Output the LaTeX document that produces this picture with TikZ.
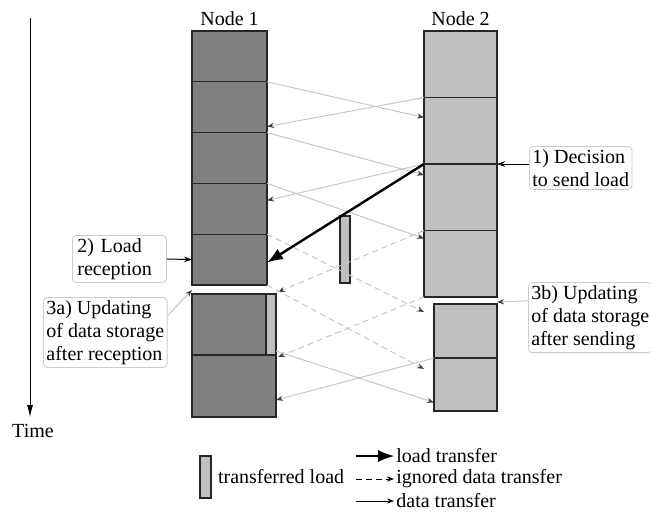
\documentclass[tikz,border=0pt]{standalone}
\usepackage{fontspec}
\setmainfont{Liberation Serif}
\usetikzlibrary{arrows.meta,positioning}

\tikzset{
  n1box/.style={draw=black!85,line width=0.6pt,fill=black!50,inner sep=0pt,outer sep=0pt,minimum width=37.5pt,minimum height=25.4pt},
  n2box/.style={draw=black!85,line width=0.6pt,fill=black!25,inner sep=0pt,outer sep=0pt,minimum width=36.5pt,minimum height=33.25pt},
  loadbox/.style={draw=black!85,line width=0.6pt,fill=black!25,inner sep=0pt,outer sep=0pt,minimum width=5pt},
  datatr/.style={draw=black!22,line width=0.5pt,-{Stealth[length=3.5pt,width=2.6pt,color=black!75]}},
  ignored/.style={datatr,dash pattern=on 3pt off 2pt},
  loadtr/.style={draw=black,line width=1.2pt,-{Latex[length=8pt,width=6pt]}},
  callout/.style={draw=black!20,rounded corners=2pt,align=left,inner sep=1.5pt},
  callarr/.style={draw=black,line width=0.5pt,-{Stealth[length=4pt,width=2.8pt]}},
  legtxt/.style={inner sep=1pt,anchor=west}
}

\begin{document}
\begin{tikzpicture}[x=0.5pt,y=-0.5pt,font=\fontsize{10pt}{11.5pt}\selectfont]
\useasboundingbox (0,0) rectangle (651,511);

% time axis
\coordinate (tstart) at (30,18);
\node (time) at (33,431) {Time};
\draw[line width=0.5pt,-{Latex[length=6pt,width=3pt]}] (tstart) -- (time.north -| tstart);

% node 1
\node[n1box] (n1a) at (229.5,56.4) {};
\node[n1box] (n1b) at (229.5,107.2) {};
\node[n1box] (n1c) at (229.5,158) {};
\node[n1box] (n1d) at (229.5,208.8) {};
\node[n1box] (n1e) at (229.5,259.6) {};
\node[n1box,minimum width=42pt,minimum height=30.5pt] (n1f) at (234,324.5) {};
\node[n1box,minimum width=42pt,minimum height=31pt] (n1g) at (234,386) {};
\node[loadbox,minimum height=30.5pt] (strip) at (271,324.5) {};
\node[above=-1pt of n1a] (title1) {Node 1};

% node 2
\node[n2box] (n2a) at (460.5,64.25) {};
\node[n2box] (n2b) at (460.5,130.75) {};
\node[n2box] (n2c) at (460.5,197.25) {};
\node[n2box] (n2d) at (460.5,263.75) {};
\node[n2box,minimum width=31.5pt,minimum height=27pt] (n2e) at (465.5,331) {};
\node[n2box,minimum width=31.5pt,minimum height=26.5pt] (n2f) at (465.5,384.5) {};
\node[above=-1pt of n2a] (title2) {Node 2};

% load on its way
\node[loadbox,minimum height=33.5pt] (moved) at (345,249.5) {};

% data transfers
\draw[datatr] (n1a.south east) -- ([yshift=-10pt]n2b.north west);
\draw[datatr] (n2a.south west) -- ([yshift=3pt]n1c.north east);
\draw[datatr] (n1b.south east) -- ([yshift=-5.5pt]n2c.north west);
\draw[datatr] (n2b.south west) -- ([yshift=-8.5pt]n1d.north east);
\draw[datatr] (n1c.south east) -- ([yshift=-4pt]n2d.north west);
\draw[loadtr] (n2b.south west) -- ([yshift=-1.5pt]n1e.east);
\draw[ignored] (n1d.south east) -- ([yshift=-7.5pt]n2d.south west);
\draw[ignored] (n2c.south west) -- ([xshift=1pt,yshift=1pt]strip.north east);
\draw[ignored] (n1e.south east) -- ([xshift=-5pt,yshift=-5.5pt]n2f.north west);
\draw[ignored] (n2d.south west) -- ([xshift=1pt,yshift=-1pt]n1g.north east);
\draw[datatr] ([yshift=2pt]n1g.north east) -- ([yshift=-9pt]n2f.west);
\draw[datatr] (n2e.south west) -- ([yshift=-7pt]n1g.east);

% callouts
\node[callout,anchor=north west] (decide) at (529,146) {1) Decision\\to send load};
\draw[callarr] (decide.west |- n2b.south) -- (n2b.south east);
\node[callout,anchor=north west,inner xsep=2.5pt,text width=42pt] (recv) at (72,235) {2) Load\\reception};
\draw[callarr] (recv.east) -- (n1e.west);
\node[callout,anchor=north west] (upd1) at (43,297) {3a) Updating\\of data storage\\after reception};
\draw[datatr] (upd1.15) -- ([yshift=2pt]n1f.north west);
\node[callout,anchor=north west] (upd2) at (528,282) {3b) Updating\\of data storage\\after sending};
\draw[datatr] (upd2.165) -- ([yshift=1pt]n2e.north east);

% legend
\node[loadbox,minimum width=5.5pt,minimum height=21pt] (legload) at (205.5,477) {};
\node[right=0pt of legload] (legloadtxt) {transferred load};
\coordinate (lg1) at (356,456);
\node[legtxt] (lgload) at (394,456) {load transfer};
\draw[loadtr,line width=0.6pt] (lg1) -- (lgload.west);
\coordinate (lg2) at (356,479);
\node[legtxt] (lgign) at (394,479) {ignored data transfer};
\draw[dash pattern=on 3pt off 2pt,line width=0.5pt,-{Stealth[length=3.5pt,width=2.6pt]}] (lg2) -- (lgign.west);
\coordinate (lg3) at (356,501);
\node[legtxt] (lgdata) at (394,501) {data transfer};
\draw[line width=0.5pt,-{Stealth[length=3.5pt,width=2.6pt]}] (lg3) -- (lgdata.west);
\end{tikzpicture}
\end{document}
